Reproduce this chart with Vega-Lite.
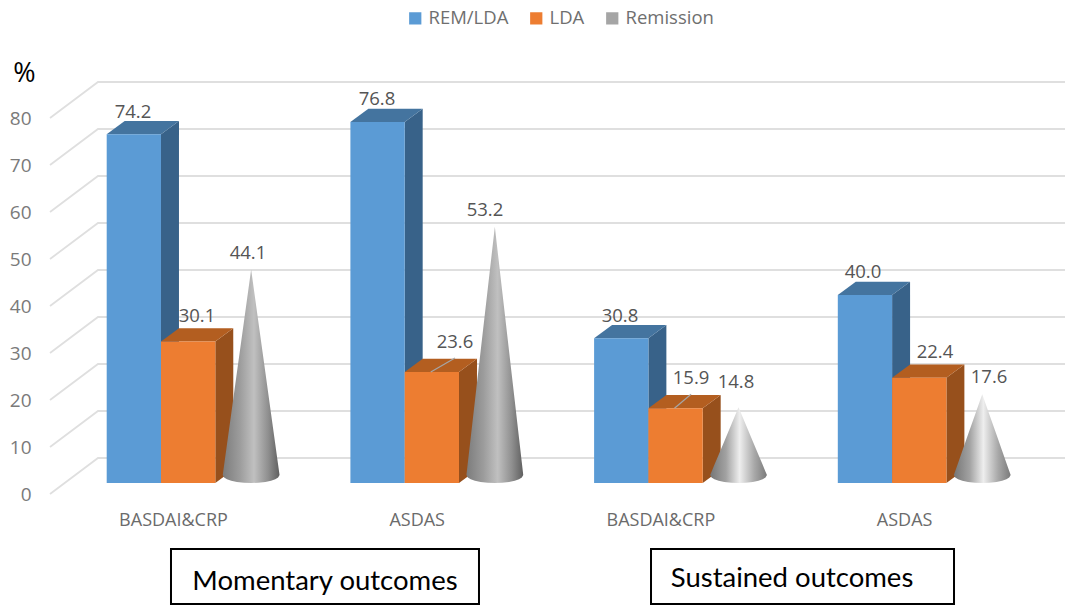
{
  "$schema": "https://vega.github.io/schema/vega-lite/v6.json",
  "width": 1065,
  "height": 605,
  "padding": 0,
  "autosize": {"type": "none"},
  "background": "white",
  "config": {"view": {"stroke": null}, "font": "Open Sans"},
  "data": {"values": [
    {"outcome": "Momentary", "measure": "BASDAI&CRP", "series": "REM/LDA", "value": 74.2},
    {"outcome": "Momentary", "measure": "BASDAI&CRP", "series": "LDA", "value": 30.1},
    {"outcome": "Momentary", "measure": "BASDAI&CRP", "series": "Remission", "value": 44.1},
    {"outcome": "Momentary", "measure": "ASDAS", "series": "REM/LDA", "value": 76.8},
    {"outcome": "Momentary", "measure": "ASDAS", "series": "LDA", "value": 23.6},
    {"outcome": "Momentary", "measure": "ASDAS", "series": "Remission", "value": 53.2},
    {"outcome": "Sustained", "measure": "BASDAI&CRP", "series": "REM/LDA", "value": 30.8},
    {"outcome": "Sustained", "measure": "BASDAI&CRP", "series": "LDA", "value": 15.9},
    {"outcome": "Sustained", "measure": "BASDAI&CRP", "series": "Remission", "value": 14.8},
    {"outcome": "Sustained", "measure": "ASDAS", "series": "REM/LDA", "value": 40.0},
    {"outcome": "Sustained", "measure": "ASDAS", "series": "LDA", "value": 22.4},
    {"outcome": "Sustained", "measure": "ASDAS", "series": "Remission", "value": 17.6}
  ]},
  "transform": [
    {"calculate": "(datum.outcome=='Momentary'?0:2)+(datum.measure=='ASDAS'?1:0)", "as": "g"},
    {"calculate": "indexof(['REM/LDA','LDA','Remission'],datum.series)", "as": "s"},
    {"calculate": "1.965+4.488*datum.g+datum.s", "as": "xL"},
    {"calculate": "[[0.484,0.663,0.602],[0.49,0.926,0.479],[0.477,0.785,0.613],[0.464,0.79,0.785]][datum.g][datum.s]", "as": "labelDx"},
    {"calculate": "[[4.8,5.4,4.9],[4.8,6.4,4.9],[4.8,6.4,6.7],[4.8,5.5,4.9]][datum.g][datum.s]", "as": "labelDy"},
    {"calculate": "datum.xL+datum.labelDx", "as": "labelX"},
    {"calculate": "datum.value+datum.labelDy", "as": "labelY"}
  ],
  "layer": [
    {
      "data": {"values": [{"tick": 0}, {"tick": 10}, {"tick": 20}, {"tick": 30}, {"tick": 40}, {"tick": 50}, {"tick": 60}, {"tick": 70}, {"tick": 80}]},
      "transform": [
        {"calculate": "[0.921,1.805,19.613]", "as": "gx"},
        {"calculate": "[-2.34,5.32,5.32]", "as": "gl"},
        {"flatten": ["gx", "gl"]},
        {"calculate": "datum.tick+datum.gl", "as": "gv"}
      ],
      "mark": {"type": "line", "stroke": "#dfdfdf", "strokeWidth": 1.8},
      "encoding": {
        "x": {"field": "gx", "type": "quantitative", "scale": {"domain": [0, 19.613], "nice": false, "zero": false}, "axis": null},
        "y": {"field": "gv", "type": "quantitative", "scale": {"domain": [-25.957, 102.766], "nice": false, "zero": false},
          "axis": {"values": [0, 10, 20, 30, 40, 50, 60, 70, 80], "grid": false, "domain": false, "ticks": false, "offset": -31, "labelPadding": 0, "labelOffset": 11, "labelFontSize": 19, "labelColor": "#7a7a7a", "labelFont": "Open Sans", "title": "%", "titleAngle": 0, "titleFontSize": 27, "titleFontWeight": "normal", "titleColor": "#000000", "titleFont": "Open Sans", "titleX": -7, "titleY": 73, "titleAlign": "center", "titleBaseline": "middle"}},
        "detail": {"field": "tick"}
      }
    },
    {
      "transform": [
        {"filter": "datum.series=='REM/LDA'"},
        {"calculate": "[0,1]", "as": "t"}, {"flatten": ["t"]},
        {"calculate": "datum.xL+1+datum.t*0.331", "as": "px"},
        {"calculate": "datum.value+datum.t*2.83", "as": "hi"},
        {"calculate": "datum.t*2.83", "as": "lo"}
      ],
      "mark": {"type": "area", "fill": "#386289"},
      "encoding": {
        "x": {"field": "px", "type": "quantitative", "scale": {"domain": [0, 19.613], "nice": false, "zero": false}, "axis": null},
        "y": {"field": "hi", "type": "quantitative", "stack": null, "scale": {"domain": [-25.957, 102.766], "nice": false, "zero": false}},
        "y2": {"field": "lo"},
        "detail": {"field": "g"}
      }
    },
    {
      "transform": [
        {"filter": "datum.series=='REM/LDA'"},
        {"calculate": "[0,1]", "as": "t"}, {"flatten": ["t"]},
        {"calculate": "datum.xL+datum.t*0.331", "as": "pa"},
        {"calculate": "datum.xL+1+datum.t*0.331", "as": "pb"},
        {"calculate": "datum.value+datum.t*2.83", "as": "hi"}
      ],
      "mark": {"type": "area", "orient": "horizontal", "fill": "#44749f"},
      "encoding": {
        "x": {"field": "pa", "type": "quantitative", "stack": null, "scale": {"domain": [0, 19.613], "nice": false, "zero": false}, "axis": null},
        "x2": {"field": "pb"},
        "y": {"field": "hi", "type": "quantitative", "scale": {"domain": [-25.957, 102.766], "nice": false, "zero": false}},
        "detail": {"field": "g"}
      }
    },
    {
      "transform": [
        {"filter": "datum.series=='REM/LDA'"},
        {"calculate": "datum.xL+1", "as": "xR"},
        {"calculate": "0", "as": "floor"}
      ],
      "mark": {"type": "rect"},
      "encoding": {
        "x": {"field": "xL", "type": "quantitative", "scale": {"domain": [0, 19.613], "nice": false, "zero": false}, "axis": null},
        "x2": {"field": "xR"},
        "y": {"field": "value", "type": "quantitative", "scale": {"domain": [-25.957, 102.766], "nice": false, "zero": false}},
        "y2": {"field": "floor"},
        "color": {"field": "series", "type": "nominal",
          "scale": {"domain": ["REM/LDA", "LDA", "Remission"], "range": ["#5b9bd5", "#ed7d31", "#a5a5a5"]},
          "legend": {"title": null, "orient": "none", "legendX": 406, "legendY": 9, "direction": "horizontal", "columns": 3, "symbolType": "square", "symbolSize": 150, "symbolStrokeWidth": 0, "labelFontSize": 18.5, "labelColor": "#6f6f6f", "labelFont": "Open Sans", "labelOffset": 4, "columnPadding": 18, "padding": 0}}
      }
    },
    {
      "transform": [
        {"filter": "datum.series=='LDA'"},
        {"calculate": "[0,1]", "as": "t"}, {"flatten": ["t"]},
        {"calculate": "datum.xL+1+datum.t*0.331", "as": "px"},
        {"calculate": "datum.value+datum.t*2.83", "as": "hi"},
        {"calculate": "datum.t*2.83", "as": "lo"}
      ],
      "mark": {"type": "area", "fill": "#97501c"},
      "encoding": {
        "x": {"field": "px", "type": "quantitative", "scale": {"domain": [0, 19.613], "nice": false, "zero": false}, "axis": null},
        "y": {"field": "hi", "type": "quantitative", "stack": null, "scale": {"domain": [-25.957, 102.766], "nice": false, "zero": false}},
        "y2": {"field": "lo"},
        "detail": {"field": "g"}
      }
    },
    {
      "transform": [
        {"filter": "datum.series=='LDA'"},
        {"calculate": "[0,1]", "as": "t"}, {"flatten": ["t"]},
        {"calculate": "datum.xL+datum.t*0.331", "as": "pa"},
        {"calculate": "datum.xL+1+datum.t*0.331", "as": "pb"},
        {"calculate": "datum.value+datum.t*2.83", "as": "hi"}
      ],
      "mark": {"type": "area", "orient": "horizontal", "fill": "#b35e20"},
      "encoding": {
        "x": {"field": "pa", "type": "quantitative", "stack": null, "scale": {"domain": [0, 19.613], "nice": false, "zero": false}, "axis": null},
        "x2": {"field": "pb"},
        "y": {"field": "hi", "type": "quantitative", "scale": {"domain": [-25.957, 102.766], "nice": false, "zero": false}},
        "detail": {"field": "g"}
      }
    },
    {
      "transform": [
        {"filter": "datum.series=='LDA'"},
        {"calculate": "datum.xL+1", "as": "xR"},
        {"calculate": "0", "as": "floor"}
      ],
      "mark": {"type": "rect"},
      "encoding": {
        "x": {"field": "xL", "type": "quantitative", "scale": {"domain": [0, 19.613], "nice": false, "zero": false}, "axis": null},
        "x2": {"field": "xR"},
        "y": {"field": "value", "type": "quantitative", "scale": {"domain": [-25.957, 102.766], "nice": false, "zero": false}},
        "y2": {"field": "floor"},
        "color": {"field": "series", "type": "nominal",
          "scale": {"domain": ["REM/LDA", "LDA", "Remission"], "range": ["#5b9bd5", "#ed7d31", "#a5a5a5"]}}
      }
    },
    {
      "transform": [
        {"filter": "datum.series=='Remission' && datum.value>40"},
        {"calculate": "[-1,-0.95,-0.85,-0.7,-0.5,-0.25,0,0.25,0.5,0.7,0.85,0.95,1]", "as": "t"}, {"flatten": ["t"]},
        {"calculate": "datum.xL+0.66+datum.t*0.523", "as": "px"},
        {"calculate": "1.7+(datum.value-0.4)*(1-abs(datum.t))", "as": "hi"},
        {"calculate": "1.7-1.7*sqrt(1-datum.t*datum.t)", "as": "lo"}
      ],
      "mark": {"type": "area", "fill": {"gradient": "linear", "x1": 0, "y1": 0, "x2": 1, "y2": 0, "stops": [
        {"offset": 0, "color": "#7c7c7c"}, {"offset": 0.3, "color": "#9c9c9c"}, {"offset": 0.55, "color": "#c0c0c0"}, {"offset": 0.8, "color": "#8f8f8f"}, {"offset": 1, "color": "#5f5f5f"}]}},
      "encoding": {
        "x": {"field": "px", "type": "quantitative", "scale": {"domain": [0, 19.613], "nice": false, "zero": false}, "axis": null},
        "y": {"field": "hi", "type": "quantitative", "stack": null, "scale": {"domain": [-25.957, 102.766], "nice": false, "zero": false}},
        "y2": {"field": "lo"},
        "detail": {"field": "g"}
      }
    },
    {
      "transform": [
        {"filter": "datum.series=='Remission' && datum.value<=40"},
        {"calculate": "[-1,-0.95,-0.85,-0.7,-0.5,-0.25,0,0.25,0.5,0.7,0.85,0.95,1]", "as": "t"}, {"flatten": ["t"]},
        {"calculate": "datum.xL+0.66+datum.t*0.523", "as": "px"},
        {"calculate": "1.7+(datum.value-0.4)*(1-abs(datum.t))", "as": "hi"},
        {"calculate": "1.7-1.7*sqrt(1-datum.t*datum.t)", "as": "lo"}
      ],
      "mark": {"type": "area", "fill": {"gradient": "linear", "x1": 0, "y1": 0, "x2": 1, "y2": 0, "stops": [
        {"offset": 0, "color": "#767676"}, {"offset": 0.28, "color": "#a2a2a2"}, {"offset": 0.52, "color": "#eeeeee"}, {"offset": 0.78, "color": "#a8a8a8"}, {"offset": 1, "color": "#7a7a7a"}]}},
      "encoding": {
        "x": {"field": "px", "type": "quantitative", "scale": {"domain": [0, 19.613], "nice": false, "zero": false}, "axis": null},
        "y": {"field": "hi", "type": "quantitative", "stack": null, "scale": {"domain": [-25.957, 102.766], "nice": false, "zero": false}},
        "y2": {"field": "lo"},
        "detail": {"field": "g"}
      }
    },
    {
      "transform": [
        {"filter": "datum.series=='LDA' && datum.labelDy>6"},
        {"calculate": "datum.xL+0.48", "as": "leadX"},
        {"calculate": "datum.value+3", "as": "leadY"}
      ],
      "mark": {"type": "rule", "stroke": "#a6a6a6", "strokeWidth": 1.2},
      "encoding": {
        "x": {"field": "leadX", "type": "quantitative", "scale": {"domain": [0, 19.613], "nice": false, "zero": false}, "axis": null},
        "x2": {"field": "labelX"},
        "y": {"field": "value", "type": "quantitative", "scale": {"domain": [-25.957, 102.766], "nice": false, "zero": false}},
        "y2": {"field": "leadY"}
      }
    },
    {
      "mark": {"type": "text", "fontSize": 18.5, "font": "Open Sans", "fill": "#555555", "align": "center", "baseline": "middle"},
      "encoding": {
        "x": {"field": "labelX", "type": "quantitative", "scale": {"domain": [0, 19.613], "nice": false, "zero": false}, "axis": null},
        "y": {"field": "labelY", "type": "quantitative", "scale": {"domain": [-25.957, 102.766], "nice": false, "zero": false}},
        "text": {"field": "value", "type": "quantitative", "format": ".1f"}
      }
    },
    {
      "transform": [
        {"filter": "datum.series=='REM/LDA'"},
        {"calculate": "datum.xL+1.23", "as": "catX"},
        {"calculate": "-8.1", "as": "catY"}
      ],
      "mark": {"type": "text", "fontSize": 18, "font": "Open Sans", "fill": "#6b6b6b", "align": "center", "baseline": "middle"},
      "encoding": {
        "x": {"field": "catX", "type": "quantitative", "scale": {"domain": [0, 19.613], "nice": false, "zero": false}, "axis": null},
        "y": {"field": "catY", "type": "quantitative", "scale": {"domain": [-25.957, 102.766], "nice": false, "zero": false}},
        "text": {"field": "measure"}
      }
    },
    {
      "data": {"values": [{"caption": "Momentary outcomes"}, {"caption": "Sustained outcomes"}]},
      "transform": [
        {"calculate": "datum.caption=='Momentary outcomes'?3.149:11.989", "as": "bx"},
        {"calculate": "datum.caption=='Momentary outcomes'?8.821:17.569", "as": "bx2"},
        {"calculate": "-14.04", "as": "by"},
        {"calculate": "-25.74", "as": "by2"}
      ],
      "mark": {"type": "rect", "fill": "white", "stroke": "#000000", "strokeWidth": 2},
      "encoding": {
        "x": {"field": "bx", "type": "quantitative", "scale": {"domain": [0, 19.613], "nice": false, "zero": false}, "axis": null},
        "x2": {"field": "bx2"},
        "y": {"field": "by", "type": "quantitative", "scale": {"domain": [-25.957, 102.766], "nice": false, "zero": false}},
        "y2": {"field": "by2"}
      }
    },
    {
      "data": {"values": [{"caption": "Momentary outcomes"}, {"caption": "Sustained outcomes"}]},
      "transform": [
        {"calculate": "datum.caption=='Momentary outcomes'?5.985:14.586", "as": "tx"},
        {"calculate": "datum.caption=='Momentary outcomes'?-21.1:-20.4", "as": "ty"}
      ],
      "mark": {"type": "text", "fontSize": 27.5, "font": "Lato", "fill": "#000000", "align": "center", "baseline": "middle"},
      "encoding": {
        "x": {"field": "tx", "type": "quantitative", "scale": {"domain": [0, 19.613], "nice": false, "zero": false}, "axis": null},
        "y": {"field": "ty", "type": "quantitative", "scale": {"domain": [-25.957, 102.766], "nice": false, "zero": false}},
        "text": {"field": "caption"}
      }
    }
  ]
}
